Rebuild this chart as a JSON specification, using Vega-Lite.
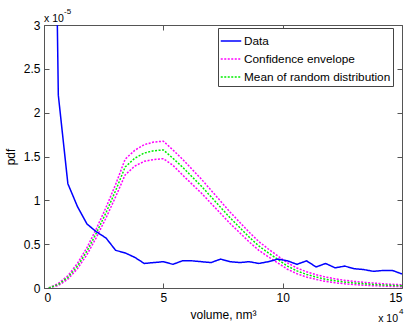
{
  "$schema": "https://vega.github.io/schema/vega-lite/v6.json",
  "width": 358,
  "height": 263,
  "autosize": "none",
  "padding": {"left": 44, "top": 25, "right": 5, "bottom": 37},
  "background": "white",
  "config": {
    "view": {"stroke": null},
    "font": "Liberation Sans",
    "axis": {
      "grid": false,
      "domainColor": "#555555",
      "tickColor": "#555555",
      "labelColor": "black",
      "titleColor": "black",
      "labelFont": "Liberation Sans",
      "titleFont": "Liberation Sans",
      "labelFontSize": 12,
      "titleFontSize": 12,
      "titleFontWeight": "normal",
      "tickSize": -5,
      "labelPadding": 9
    }
  },
  "layer": [
    {
      "data": {
        "values": [
          {"volume": 2000, "Data": 1e-4, "Confidence envelope": 0, "Mean of random distribution": 0, "Confidence envelope (lower)": 0},
          {"volume": 6000, "Data": 2.2e-5, "Confidence envelope": 5.2e-7, "Mean of random distribution": 4.0e-7, "Confidence envelope (lower)": 2.8e-7},
          {"volume": 10000, "Data": 1.19e-5, "Confidence envelope": 1.4e-6, "Mean of random distribution": 1.2e-6, "Confidence envelope (lower)": 1.0e-6},
          {"volume": 14000, "Data": 9.3e-6, "Confidence envelope": 2.8e-6, "Mean of random distribution": 2.5e-6, "Confidence envelope (lower)": 2.2e-6},
          {"volume": 18000, "Data": 7.3e-6, "Confidence envelope": 4.6e-6, "Mean of random distribution": 4.2e-6, "Confidence envelope (lower)": 3.8e-6},
          {"volume": 22000, "Data": 6.4e-6, "Confidence envelope": 6.8e-6, "Mean of random distribution": 6.3e-6, "Confidence envelope (lower)": 5.8e-6},
          {"volume": 26000, "Data": 5.7e-6, "Confidence envelope": 9.2e-6, "Mean of random distribution": 8.6e-6, "Confidence envelope (lower)": 8.0e-6},
          {"volume": 30000, "Data": 4.3e-6, "Confidence envelope": 1.18e-5, "Mean of random distribution": 1.11e-5, "Confidence envelope (lower)": 1.04e-5},
          {"volume": 34000, "Data": 4.0e-6, "Confidence envelope": 1.47e-5, "Mean of random distribution": 1.38e-5, "Confidence envelope (lower)": 1.29e-5},
          {"volume": 38000, "Data": 3.5e-6, "Confidence envelope": 1.57e-5, "Mean of random distribution": 1.48e-5, "Confidence envelope (lower)": 1.39e-5},
          {"volume": 42000, "Data": 2.8e-6, "Confidence envelope": 1.635e-5, "Mean of random distribution": 1.54e-5, "Confidence envelope (lower)": 1.445e-5},
          {"volume": 46000, "Data": 2.9e-6, "Confidence envelope": 1.665e-5, "Mean of random distribution": 1.565e-5, "Confidence envelope (lower)": 1.465e-5},
          {"volume": 50000, "Data": 3.0e-6, "Confidence envelope": 1.675e-5, "Mean of random distribution": 1.575e-5, "Confidence envelope (lower)": 1.475e-5},
          {"volume": 54000, "Data": 2.7e-6, "Confidence envelope": 1.575e-5, "Mean of random distribution": 1.48e-5, "Confidence envelope (lower)": 1.40e-5},
          {"volume": 58000, "Data": 3.1e-6, "Confidence envelope": 1.47e-5, "Mean of random distribution": 1.38e-5, "Confidence envelope (lower)": 1.29e-5},
          {"volume": 62000, "Data": 3.1e-6, "Confidence envelope": 1.355e-5, "Mean of random distribution": 1.27e-5, "Confidence envelope (lower)": 1.185e-5},
          {"volume": 66000, "Data": 3.0e-6, "Confidence envelope": 1.24e-5, "Mean of random distribution": 1.16e-5, "Confidence envelope (lower)": 1.08e-5},
          {"volume": 70000, "Data": 2.9e-6, "Confidence envelope": 1.115e-5, "Mean of random distribution": 1.04e-5, "Confidence envelope (lower)": 9.65e-6},
          {"volume": 74000, "Data": 3.3e-6, "Confidence envelope": 9.9e-6, "Mean of random distribution": 9.2e-6, "Confidence envelope (lower)": 8.5e-6},
          {"volume": 78000, "Data": 3.0e-6, "Confidence envelope": 8.65e-6, "Mean of random distribution": 8.0e-6, "Confidence envelope (lower)": 7.35e-6},
          {"volume": 82000, "Data": 2.9e-6, "Confidence envelope": 7.5e-6, "Mean of random distribution": 6.9e-6, "Confidence envelope (lower)": 6.3e-6},
          {"volume": 86000, "Data": 3.0e-6, "Confidence envelope": 6.35e-6, "Mean of random distribution": 5.8e-6, "Confidence envelope (lower)": 5.25e-6},
          {"volume": 90000, "Data": 2.8e-6, "Confidence envelope": 5.3e-6, "Mean of random distribution": 4.8e-6, "Confidence envelope (lower)": 4.3e-6},
          {"volume": 94000, "Data": 3.0e-6, "Confidence envelope": 4.45e-6, "Mean of random distribution": 4.0e-6, "Confidence envelope (lower)": 3.55e-6},
          {"volume": 98000, "Data": 3.3e-6, "Confidence envelope": 3.65e-6, "Mean of random distribution": 3.25e-6, "Confidence envelope (lower)": 2.85e-6},
          {"volume": 102000, "Data": 3.1e-6, "Confidence envelope": 2.86e-6, "Mean of random distribution": 2.5e-6, "Confidence envelope (lower)": 2.14e-6},
          {"volume": 106000, "Data": 2.7e-6, "Confidence envelope": 2.28e-6, "Mean of random distribution": 1.95e-6, "Confidence envelope (lower)": 1.62e-6},
          {"volume": 110000, "Data": 3.1e-6, "Confidence envelope": 1.85e-6, "Mean of random distribution": 1.55e-6, "Confidence envelope (lower)": 1.25e-6},
          {"volume": 114000, "Data": 2.4e-6, "Confidence envelope": 1.52e-6, "Mean of random distribution": 1.25e-6, "Confidence envelope (lower)": 9.8e-7},
          {"volume": 118000, "Data": 2.8e-6, "Confidence envelope": 1.25e-6, "Mean of random distribution": 1.0e-6, "Confidence envelope (lower)": 7.5e-7},
          {"volume": 122000, "Data": 2.3e-6, "Confidence envelope": 1.04e-6, "Mean of random distribution": 8.2e-7, "Confidence envelope (lower)": 6.0e-7},
          {"volume": 126000, "Data": 2.5e-6, "Confidence envelope": 8.8e-7, "Mean of random distribution": 6.8e-7, "Confidence envelope (lower)": 4.8e-7},
          {"volume": 130000, "Data": 2.2e-6, "Confidence envelope": 7.5e-7, "Mean of random distribution": 5.7e-7, "Confidence envelope (lower)": 3.9e-7},
          {"volume": 134000, "Data": 2.1e-6, "Confidence envelope": 6.4e-7, "Mean of random distribution": 4.8e-7, "Confidence envelope (lower)": 3.2e-7},
          {"volume": 138000, "Data": 1.9e-6, "Confidence envelope": 5.6e-7, "Mean of random distribution": 4.1e-7, "Confidence envelope (lower)": 2.6e-7},
          {"volume": 142000, "Data": 2.0e-6, "Confidence envelope": 4.8e-7, "Mean of random distribution": 3.5e-7, "Confidence envelope (lower)": 2.2e-7},
          {"volume": 146000, "Data": 2.0e-6, "Confidence envelope": 4.2e-7, "Mean of random distribution": 3.0e-7, "Confidence envelope (lower)": 1.8e-7},
          {"volume": 150000, "Data": 1.6e-6, "Confidence envelope": 3.7e-7, "Mean of random distribution": 2.6e-7, "Confidence envelope (lower)": 1.5e-7}
        ]
      },
      "transform": [
        {"fold": ["Confidence envelope", "Confidence envelope (lower)", "Mean of random distribution", "Data"], "as": ["series", "pdf"]}
      ],
      "mark": {"type": "line", "clip": true, "strokeWidth": 1.5},
      "encoding": {
        "x": {
          "field": "volume", "type": "quantitative",
          "scale": {"domain": [0, 150000], "nice": false},
          "axis": {"orient": "bottom", "values": [0, 50000, 100000, 150000], "labelExpr": "format(datum.value/10000, '~g')", "title": "volume, nm³", "titlePadding": 6}
        },
        "y": {
          "field": "pdf", "type": "quantitative",
          "scale": {"domain": [0, 3e-5], "nice": false},
          "axis": {"orient": "left", "values": [0, 5e-6, 1e-5, 1.5e-5, 2e-5, 2.5e-5, 3e-5], "labelExpr": "format(datum.value*100000, '.2~f')", "title": "pdf", "titlePadding": 6}
        },
        "color": {
          "field": "series", "type": "nominal",
          "scale": {"domain": ["Data", "Confidence envelope", "Mean of random distribution", "Confidence envelope (lower)"], "range": ["#0000ff", "#ff00ff", "#00ee00", "#ff00ff"]},
          "legend": {
            "values": ["Data", "Confidence envelope", "Mean of random distribution"],
            "title": null, "orient": "none", "legendX": 174, "legendY": 3,
            "symbolType": "stroke", "symbolSize": 420, "symbolStrokeWidth": 1.5,
            "labelFont": "Liberation Sans", "labelFontSize": 11.8, "labelColor": "black",
            "strokeColor": "#444444", "fillColor": "white", "padding": 2, "rowPadding": -7, "labelOffset": 2
          }
        },
        "strokeDash": {
          "field": "series", "type": "nominal",
          "scale": {"domain": ["Data", "Confidence envelope", "Mean of random distribution", "Confidence envelope (lower)"], "range": [[1, 0], [2, 1.5], [2, 1.5], [2, 1.5]]},
          "legend": {
            "values": ["Data", "Confidence envelope", "Mean of random distribution"],
            "title": null, "orient": "none", "legendX": 174, "legendY": 3
          }
        }
      }
    },
    {
      "data": {"values": [{"label": "x 10"}]},
      "mark": {"type": "text", "align": "left", "baseline": "alphabetic", "dy": -3, "fontSize": 10.5, "font": "Liberation Sans", "color": "black", "clip": false},
      "encoding": {
        "x": {"datum": 0, "type": "quantitative", "axis": {"orient": "top", "labels": false, "title": null, "values": [0, 50000, 100000, 150000]}},
        "y": {"datum": 3e-5, "type": "quantitative", "axis": {"orient": "right", "labels": false, "title": null, "values": [0, 5e-6, 1e-5, 1.5e-5, 2e-5, 2.5e-5, 3e-5]}},
        "text": {"field": "label"}
      }
    },
    {
      "data": {"values": [{"label": "-5"}]},
      "mark": {"type": "text", "align": "left", "baseline": "alphabetic", "dx": 20, "dy": -11, "fontSize": 8, "font": "Liberation Sans", "color": "black", "clip": false},
      "encoding": {
        "x": {"datum": 0, "type": "quantitative", "axis": null},
        "y": {"datum": 3e-5, "type": "quantitative", "axis": null},
        "text": {"field": "label"}
      }
    },
    {
      "data": {"values": [{"label": "x 10"}]},
      "mark": {"type": "text", "align": "right", "baseline": "alphabetic", "dx": -4, "dy": 34, "fontSize": 10.5, "font": "Liberation Sans", "color": "black", "clip": false},
      "encoding": {
        "x": {"datum": 150000, "type": "quantitative", "axis": null},
        "y": {"datum": 0, "type": "quantitative", "axis": null},
        "text": {"field": "label"}
      }
    },
    {
      "data": {"values": [{"label": "4"}]},
      "mark": {"type": "text", "align": "left", "baseline": "alphabetic", "dx": -3, "dy": 26, "fontSize": 8, "font": "Liberation Sans", "color": "black", "clip": false},
      "encoding": {
        "x": {"datum": 150000, "type": "quantitative", "axis": null},
        "y": {"datum": 0, "type": "quantitative", "axis": null},
        "text": {"field": "label"}
      }
    }
  ],
  "resolve": {"axis": {"x": "independent", "y": "independent"}}
}
